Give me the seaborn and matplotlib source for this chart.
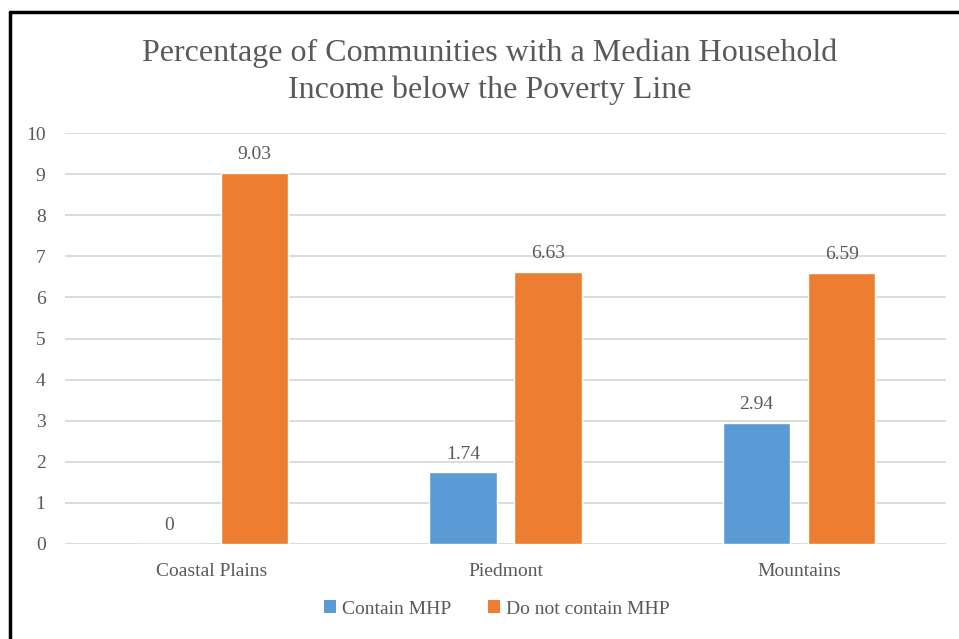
import matplotlib
matplotlib.use("Agg")
import matplotlib.pyplot as plt
import seaborn as sns
import pandas as pd
from matplotlib.lines import Line2D
from matplotlib.patches import Patch

regions = ["Coastal Plains", "Piedmont", "Mountains"]
series_names = ["Contain MHP", "Do not contain MHP"]
contain = [0, 1.74, 2.94]
not_contain = [9.03, 6.63, 6.59]
yticks = [0, 1, 2, 3, 4, 5, 6, 7, 8, 9, 10]
title = "Percentage of Communities with a Median Household\nIncome below the Poverty Line"

colors = ["#5B9BD5", "#ED7D31"]
text_color = "#595959"

df = pd.DataFrame({
    "Region": regions * 2,
    "Series": [series_names[0]] * 3 + [series_names[1]] * 3,
    "Value": contain + not_contain,
})

sns.set_theme(style="white")
plt.rcParams["font.family"] = ["Liberation Serif", "DejaVu Serif"]

fig = plt.figure(figsize=(9.59, 6.39), dpi=100)
ax = fig.add_axes([65/959, 1-544/639, (946-65)/959, (544-133)/639])

sns.barplot(data=df, x="Region", y="Value", hue="Series", order=regions,
            hue_order=series_names, palette=colors, width=0.58, gap=0.21,
            saturation=1, ax=ax, legend=False)

for c in ax.containers:
    ax.bar_label(c, fmt="%g", padding=7, fontsize=14, color=text_color)

ax.set_ylim(0, 10)
ax.set_xlim(-0.5, 2.5)
ax.set_yticks(yticks)
ax.set_yticklabels([str(t) for t in yticks])
ax.yaxis.grid(True, color="#D9D9D9", linewidth=1.3)
ax.set_axisbelow(True)
for s in ax.spines.values():
    s.set_visible(False)
ax.tick_params(axis="y", length=0, pad=14, labelsize=14, labelcolor=text_color)
ax.tick_params(axis="x", length=0, pad=14, labelsize=14, labelcolor=text_color)
ax.set_xlabel("")
ax.set_ylabel("")

fig.text(0.511, 1-72/639, title, ha="center", va="center", fontsize=23,
         color=text_color, linespacing=1.35)

handles = [Patch(facecolor=colors[0], edgecolor="none"),
           Patch(facecolor=colors[1], edgecolor="none")]
fig.legend(handles, series_names, loc="center", bbox_to_anchor=(0.518, 1-609/639),
           ncol=2, frameon=False, fontsize=14, handlelength=0.6, handleheight=0.6,
           handletextpad=0.3, columnspacing=1.9, labelcolor=text_color)

# outer border (left and top)
fig.add_artist(Line2D([10/959, 10/959], [0, 1-12/639], transform=fig.transFigure,
                      color="black", linewidth=2.5))
fig.add_artist(Line2D([10/959, 1], [1-12/639, 1-12/639], transform=fig.transFigure,
                      color="black", linewidth=2.5))

fig.savefig("out.png", dpi=100)
